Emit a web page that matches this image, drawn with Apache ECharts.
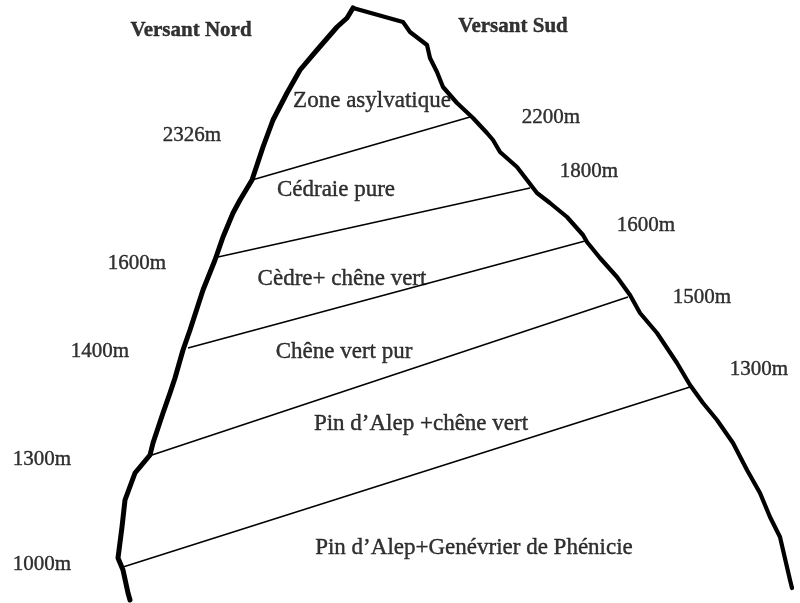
<!DOCTYPE html>
<html>
<head>
<meta charset="utf-8">
<script src="https://cdn.jsdelivr.net/npm/echarts@6/dist/echarts.min.js"></script>
<style>
  html, body { margin: 0; padding: 0; background: #fff; }
  #chart { width: 800px; height: 603px; }
</style>
</head>
<body>
<div id="chart"></div>
<script>
// contour du versant nord (du sommet vers le bas), repère de la figure
const northSlope = [
  [353, 8], [347, 18], [337, 27], [317, 50], [300, 70], [287, 93], [273, 120],
  [263, 147], [252, 180], [240, 200], [233, 213], [223, 237], [215, 260],
  [203, 290], [190, 330], [183, 350], [175, 378], [170, 393], [163, 413],
  [153, 443], [150, 455], [140, 467], [135, 473], [125, 500], [122, 527],
  [118, 558], [123, 570], [128, 593], [130, 600]
]
// contour du versant sud
const southSlope = [
  [353, 8], [403, 22], [410, 32], [427, 45], [430, 58], [437, 72], [443, 87],
  [457, 103], [473, 118], [487, 133], [493, 140], [500, 152], [517, 167],
  [537, 193], [550, 203], [567, 217], [583, 235], [587, 242], [600, 258],
  [617, 277], [630, 295], [640, 313], [657, 333], [677, 363], [690, 385],
  [703, 403], [717, 420], [733, 443], [747, 470], [760, 493], [770, 517],
  [780, 537], [790, 580], [792, 588]
]
// limites entre étages (extrémité nord -> extrémité sud)
const zoneLimits = [
  [[252, 180], [470, 117]],
  [[218, 257], [530, 188]],
  [[188, 348], [585, 241]],
  [[152, 455], [628, 297]],
  [[123, 567], [690, 387]]
]
const zoneNames = [
  'Zone asylvatique', 'Cédraie pure', 'Cèdre+ chêne vert', 'Chêne vert pur',
  'Pin d\u2019Alep +chêne vert', 'Pin d\u2019Alep+Genévrier de Phénicie'
]
const zoneLabelPos = [[372, 101], [336, 190], [342, 279], [344, 352], [421, 424], [474, 548]]

const northAlt = ['2326m', '1600m', '1400m', '1300m', '1000m']
const northAltPos = [[192, 135], [137, 263], [100, 351], [42, 459], [42, 564]]
const southAlt = ['2200m', '1800m', '1600m', '1500m', '1300m']
const southAltPos = [[551, 117], [589, 171], [646, 225], [702, 297], [759, 369]]

const sides = ['Versant Nord', 'Versant Sud']
const sidePos = [[191, 31], [513, 27]]

const FONT = 'Liberation Serif'

function textSeries(names, pos, style) {
  return {
    type: 'scatter',
    symbolSize: 0,
    silent: true,
    itemStyle: { color: '#000' },
    data: names.map((n, i) => ({ name: n, value: pos[i] })),
    label: Object.assign({
      show: true,
      position: [0, 0],
      align: 'center',
      verticalAlign: 'middle',
      formatter: p => p.name,
      color: '#000',
      textBorderColor: '#000',
      textBorderWidth: 0.4,
      fontFamily: FONT,
      fontSize: 23
    }, style || {})
  }
}

function outline(data, w) {
  return {
    type: 'line',
    data: data,
    symbol: 'none',
    silent: true,
    lineStyle: { color: '#000', width: w, join: 'round', cap: 'round' }
  }
}

const chart = echarts.init(document.getElementById('chart'))
chart.setOption({
  animation: false,
  backgroundColor: '#fff',
  grid: { left: 0, right: 0, top: 0, bottom: 0 },
  xAxis: { type: 'value', min: 0, max: 800, show: false },
  yAxis: { type: 'value', min: 0, max: 603, inverse: true, show: false },
  series: [
    outline(northSlope, 5),
    outline(southSlope, 4.2),
    ...zoneLimits.map(seg => ({
      type: 'line',
      data: seg,
      symbol: 'none',
      silent: true,
      lineStyle: { color: '#000', width: 1.6 }
    })),
    textSeries(zoneNames, zoneLabelPos),
    textSeries(northAlt, northAltPos, { fontSize: 21 }),
    textSeries(southAlt, southAltPos, { fontSize: 21 }),
    textSeries(sides, sidePos, { fontSize: 21, fontWeight: 'bold' })
  ]
})
</script>
</body>
</html>
